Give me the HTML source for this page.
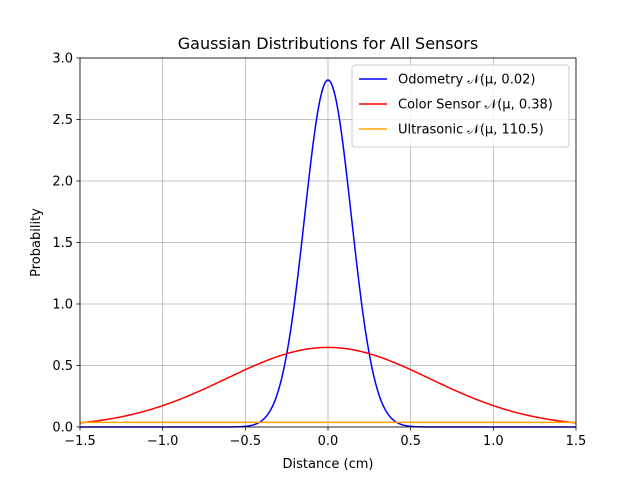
<!DOCTYPE html>
<html><head><meta charset="utf-8"><style>
body{margin:0;background:#fff;}
svg text{font-family:"DejaVu Sans","Liberation Sans",sans-serif;fill:#000;}
</style></head><body>
<svg id="chart" width="640" height="480" viewBox="0 0 640 480" xmlns="http://www.w3.org/2000/svg">
<rect width="640" height="480" fill="#fff"/>
<g id="grid"></g>
<g id="series"></g>
<rect x="80" y="58" width="496" height="369" fill="none" stroke="#000" stroke-width="0.8"/>
<g id="ticks"></g>
<text x="328" y="49" font-size="16" text-anchor="middle">Gaussian Distributions for All Sensors</text>
<text x="328" y="468" font-size="13" text-anchor="middle">Distance (cm)</text>
<text x="40" y="242.5" font-size="13" text-anchor="middle" transform="rotate(-90 40 242.5)">Probability</text>
<g id="legend">
<rect x="352" y="65" width="217" height="82" rx="3" fill="#fff" fill-opacity="0.8" stroke="#ccc"/>
</g>
</svg>
<script>
const seriesNames = ["Odometry 𝒩(μ, 0.02)", "Color Sensor 𝒩(μ, 0.38)", "Ultrasonic 𝒩(μ, 110.5)"];
const seriesMeans = [0, 0, 0];
const seriesVariances = [0.02, 0.38, 110.5];
const seriesColors = ["#0000ff", "#ff0000", "#ffa500"];
const xTicks = [-1.5, -1.0, -0.5, 0.0, 0.5, 1.0, 1.5];
const xTickLabels = ["−1.5", "−1.0", "−0.5", "0.0", "0.5", "1.0", "1.5"];
const yTicks = [0, 0.5, 1.0, 1.5, 2.0, 2.5, 3.0];
const yTickLabels = ["0.0", "0.5", "1.0", "1.5", "2.0", "2.5", "3.0"];

const NS = "http://www.w3.org/2000/svg";
const X0 = 80, X1 = 576, Y0 = 427, Y1 = 58;
const xMin = -1.5, xMax = 1.5, yMin = 0, yMax = 3;
const xs = v => X0 + (v - xMin) / (xMax - xMin) * (X1 - X0);
const ys = v => Y0 - (v - yMin) / (yMax - yMin) * (Y0 - Y1);
function mk(tag, attrs, parent) { const e = document.createElementNS(NS, tag); for (const k in attrs) e.setAttribute(k, attrs[k]); parent.appendChild(e); return e; }
const grid = document.getElementById('grid'), ticks = document.getElementById('ticks');
xTicks.forEach((t, i) => {
  const x = xs(t);
  const g = mk('line', {x1: x, x2: x, y1: Y1, y2: Y0, stroke: '#b0b0b0', 'stroke-width': 0.8}, grid);
  
  
  const tk = mk('line', {x1: x, x2: x, y1: Y0, y2: Y0 + 3.5, stroke: '#000', 'stroke-width': 0.8}, ticks);
  
  
  const tx = mk('text', {x: x, y: Y0 + 18, 'font-size': 13, 'text-anchor': 'middle'}, ticks);
  tx.textContent = xTickLabels[i];
  
  
});
yTicks.forEach((t, i) => {
  const y = ys(t);
  const g = mk('line', {x1: X0, x2: X1, y1: y, y2: y, stroke: '#b0b0b0', 'stroke-width': 0.8}, grid);
  
  
  const tk = mk('line', {x1: X0 - 3.5, x2: X0, y1: y, y2: y, stroke: '#000', 'stroke-width': 0.8}, ticks);
  
  
  const tx = mk('text', {x: X0 - 7, y: y + 4.5, 'font-size': 13, 'text-anchor': 'end'}, ticks);
  tx.textContent = yTickLabels[i];
  
  
});
const series = document.getElementById('series');
seriesVariances.forEach((v, i) => {
  const s = Math.sqrt(v), mu = seriesMeans[i];
  let d = '';
  for (let k = 0; k <= 600; k++) {
    const x = xMin + (xMax - xMin) * k / 600;
    const p = Math.exp(-(x - mu) * (x - mu) / (2 * v)) / (s * Math.sqrt(2 * Math.PI));
    d += (k ? 'L' : 'M') + xs(x).toFixed(2) + ' ' + ys(p).toFixed(2);
  }
  const path = mk('path', {d: d, fill: 'none', stroke: seriesColors[i], 'stroke-width': 1.5}, series);
  
  
});
const legend = document.getElementById('legend');
seriesNames.forEach((n, i) => {
  const y = 79 + i * 25;
  const l = mk('line', {x1: 359, x2: 387, y1: y, y2: y, stroke: seriesColors[i], 'stroke-width': 1.5}, legend);
  
  
  const t = mk('text', {x: 398, y: y + 4.5, 'font-size': 13}, legend);
  t.textContent = n;
  
  
});
</script>
</body></html>
